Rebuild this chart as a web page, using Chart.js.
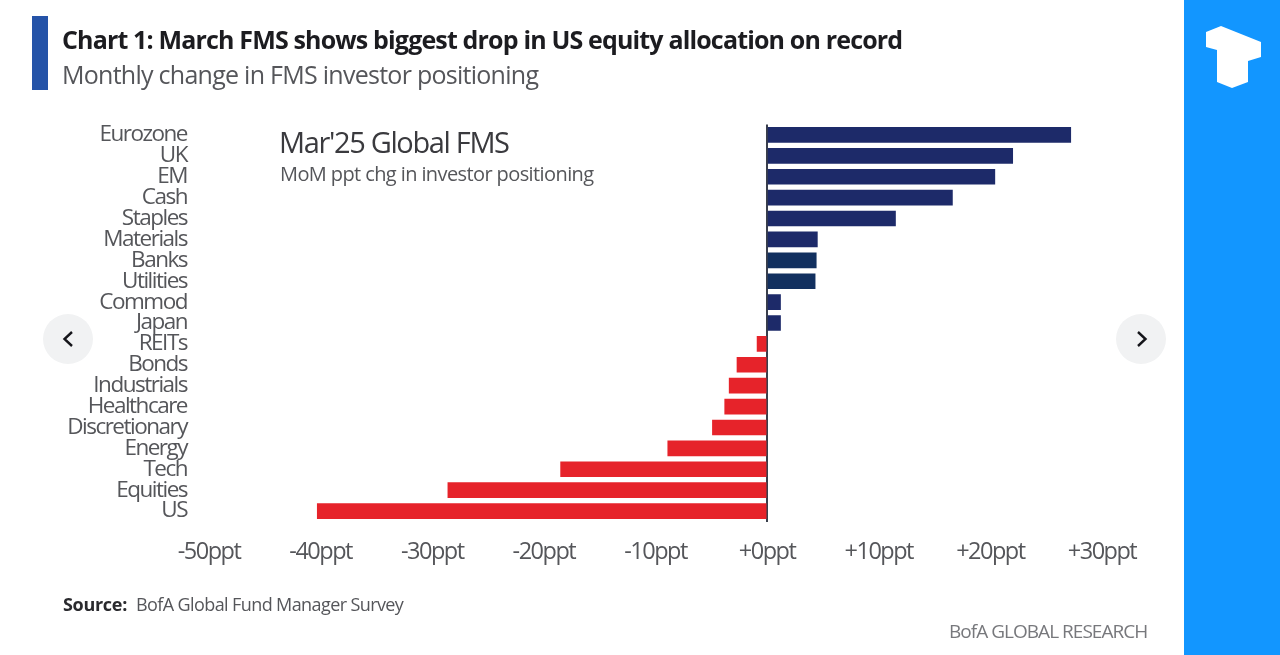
<!DOCTYPE html>
<html>
<head>
<meta charset="utf-8">
<script src="https://cdn.jsdelivr.net/npm/chart.js@4"></script>
<style>
  html, body { margin: 0; padding: 0; background: #fff; overflow: hidden; }
  body { width: 1280px; height: 655px; position: relative; font-family: "Open Sans", sans-serif; }
  #chart { position: absolute; left: 0; top: 0; }
  .txt { position: absolute; white-space: nowrap; transform-origin: left top; }
  #accent { position: absolute; left: 32px; top: 16px; width: 16px; height: 74px; background: #2553a8; }
  #panel { position: absolute; left: 1184px; top: 0; width: 96px; height: 655px; background: #1296ff; }
  .nav { position: absolute; top: 314px; width: 50px; height: 50px; border-radius: 50%; background: #f1f2f3; }
</style>
</head>
<body>
<canvas id="chart" width="1280" height="655"></canvas>
<div id="accent"></div>
<div class="txt" style="left:62px;top:22px;font-size:25px;font-weight:700;color:#1c1c20;letter-spacing:-0.84px">Chart 1: March FMS shows biggest drop in US equity allocation on record</div>
<div class="txt" style="left:62px;top:57px;font-size:25px;color:#55565a;letter-spacing:-0.73px">Monthly change in FMS investor positioning</div>
<div class="txt" style="left:279px;top:122px;font-size:29px;color:#3a3a3e;letter-spacing:-1.35px">Mar'25 Global FMS</div>
<div class="txt" style="left:280px;top:160px;font-size:20px;color:#55565a;letter-spacing:-0.6px">MoM ppt chg in investor positioning</div>
<div class="txt" style="left:63px;top:592px;font-size:18px;font-weight:700;color:#2a2a2e;letter-spacing:-0.3px">Source:</div>
<div class="txt" style="left:136px;top:592px;font-size:18px;color:#55565a;letter-spacing:-0.6px">BofA Global Fund Manager Survey</div>
<div class="txt" style="left:949px;top:618px;font-size:19px;color:#77787c;letter-spacing:-0.97px">BofA GLOBAL RESEARCH</div>
<div id="panel"></div>
<svg style="position:absolute;left:0;top:0" width="1280" height="655">
  <polygon fill="#fff" points="1221,26 1261,42 1261,57 1248,61 1248,82 1232,88 1217,82 1217,50 1206,47 1206,32"/>
</svg>
<div class="nav" style="left:43px"></div>
<div class="nav" style="left:1116px"></div>
<svg style="position:absolute;left:0;top:0" width="1280" height="655">
  <path d="M72 332 L64.500 339 L72 346" fill="none" stroke="#15151a" stroke-width="2.4"/>
  <path d="M1138 332 L1145.500 339 L1138 346" fill="none" stroke="#15151a" stroke-width="2.4"/>
</svg>
<script>
const categories = ['Eurozone', 'UK', 'EM', 'Cash', 'Staples', 'Materials', 'Banks', 'Utilities', 'Commod', 'Japan',
  'REITs', 'Bonds', 'Industrials', 'Healthcare', 'Discretionary', 'Energy', 'Tech', 'Equities', 'US'];
const changes = [27.2, 22, 20.4, 16.6, 11.5, 4.5, 4.4, 4.3, 1.2, 1.2,
  -0.9, -2.7, -3.4, -3.8, -4.9, -8.9, -18.5, -28.6, -40.3];

function barColor(ctx) {
  if (ctx.raw < 0) return '#e6232a';
  // these two print a touch darker in the source
  const name = categories[ctx.dataIndex];
  return name === 'Banks' || name === 'Utilities' ? '#12305f' : '#1d2a69';
}

// the source labels are set tight, chart.js has no option for this
const tightLabels = {
  id: 'tightLabels',
  beforeDraw(chart) { chart.ctx.letterSpacing = '-1.5px'; }
};

new Chart(document.getElementById('chart'), {
  type: 'bar',
  plugins: [tightLabels],
  data: {
    labels: categories,
    datasets: [{
      data: changes,
      backgroundColor: barColor,
      barThickness: 15,
      borderWidth: 0
    }]
  },
  options: {
    indexAxis: 'y',
    responsive: false,
    animation: false,
    layout: { padding: { left: 0, right: 178, top: 124.5, bottom: 0 } },
    plugins: { legend: { display: false }, tooltip: { enabled: false } },
    scales: {
      x: {
        min: -50,
        max: 30,
        afterFit: s => { s.height = 133.5; },
        border: { display: false },
        grid: {
          drawTicks: false,
          lineWidth: 2,
          color: ctx => ctx.tick && ctx.tick.value === 0 ? '#3a3f4c' : 'transparent'
        },
        ticks: {
          stepSize: 10,
          padding: 17,
          maxRotation: 0,
          color: '#55565a',
          font: { family: 'Open Sans', size: 23.5 },
          callback: v => (v < 0 ? '' : '+') + v + 'ppt'
        }
      },
      y: {
        afterFit: s => { s.width = 209; },
        border: { display: false },
        grid: { display: false, drawTicks: false },
        ticks: {
          autoSkip: false,
          padding: 22,
          color: '#55565a',
          font: { family: 'Open Sans', size: 22.5 }
        }
      }
    }
  }
});
</script>
</body>
</html>
